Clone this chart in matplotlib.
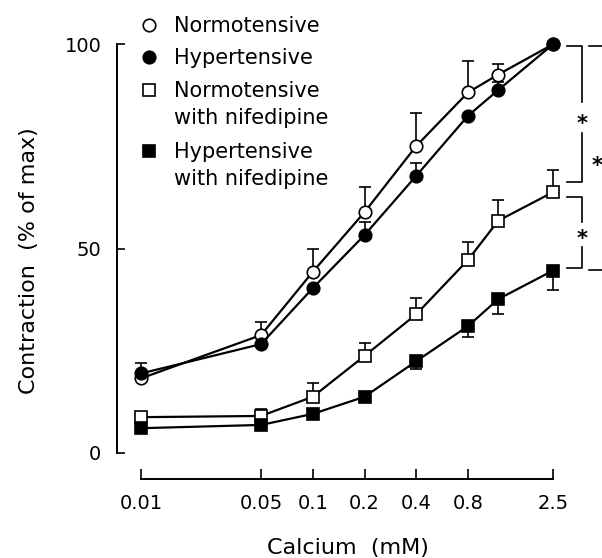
import matplotlib.pyplot as plt
import numpy as np

# calcium concentrations (mM)
calcium = [0.01, 0.05, 0.1, 0.2, 0.4, 0.8, 1.2, 2.5]
tick_vals = [0.01, 0.05, 0.1, 0.2, 0.4, 0.8, 2.5]
tick_labels = ['0.01', '0.05', '0.1', '0.2', '0.4', '0.8', '2.5']

# contraction, % of max, with SEM
normo = [18.2, 28.8, 44.3, 58.9, 75.1, 88.2, 92.6, 100]
normo_err = [3.7, 3.1, 5.5, 6.2, 8.2, 7.8, 2.6, 0]
hyper = [19.4, 26.6, 40.3, 53.3, 67.8, 82.5, 88.8, 100]
hyper_err = [0, 0, 0, 3.3, 3.1, 0, 2.0, 0]
normo_nif = [8.7, 9.0, 13.7, 23.7, 33.9, 47.2, 56.8, 63.8]
normo_nif_err = [0, 1.8, 3.3, 3.1, 3.9, 4.5, 5.1, 5.4]
hyper_nif = [6.0, 6.8, 9.5, 13.7, 22.4, 31.0, 37.6, 44.6]
hyper_nif_err = [0, 0, 0, 0, 1.8, 2.6, 3.6, 4.8]

W, H = 602, 558
fig = plt.figure(figsize=(W / 100, H / 100), dpi=100)
ax = fig.add_axes([141 / W, (H - 452.7) / H, 412 / W, 408.4 / H])

lw = 1.6
ms = 9
mew = 1.2

series = [
    (normo, normo_err, 'up', 'o', 'white'),
    (hyper, hyper_err, 'up', 'o', 'black'),
    (normo_nif, normo_nif_err, 'up', 's', 'white'),
    (hyper_nif, hyper_nif_err, 'down', 's', 'black'),
]

for i, (vals, err, side, mk, fc) in enumerate(series):
    zero = np.zeros(len(err))
    yerr = [zero, err] if side == 'up' else [err, zero]
    ax.errorbar(calcium, vals, yerr=yerr, fmt='none', ecolor='black',
                elinewidth=1.2, capsize=4.3, capthick=1.2, zorder=2 + i,
                clip_on=False)
    ax.plot(calcium, vals, color='black', lw=lw, marker=mk, ms=ms,
            mfc=fc, mec='black', mew=mew, zorder=2.5 + i, clip_on=False)

ax.set_xscale('log')
ax.set_xlim(0.01, 2.5)
ax.set_ylim(0, 100)
ax.set_xticks(tick_vals)
ax.set_xticklabels(tick_labels)
ax.xaxis.set_minor_locator(plt.NullLocator())
ax.set_yticks([0, 50, 100])

for s in ['top', 'right']:
    ax.spines[s].set_visible(False)
ax.spines['left'].set_position(('outward', 17.5))
ax.spines['bottom'].set_position(('outward', 19))
ax.spines['left'].set_bounds(0, 100)
ax.spines['bottom'].set_bounds(0.01, 2.5)
ax.spines['left'].set_linewidth(1.4)
ax.spines['bottom'].set_linewidth(1.4)

ax.tick_params(axis='x', direction='in', length=7.2, width=1.2, pad=11, labelsize=14)
ax.tick_params(axis='y', direction='in', length=6, width=1.2, pad=11, labelsize=14)

ax.set_xlabel('Calcium  (mM)', fontsize=16)
ax.xaxis.set_label_coords(0.502, -0.233)
ax.xaxis.label.set_va('center')
ax.set_ylabel('Contraction  (% of max)', fontsize=16)
ax.yaxis.set_label_coords(-0.272, 0.47)
ax.yaxis.label.set_va('center')

# legend drawn by hand so the marker lines up with the first text line
legend_rows = [
    ('o', 'white', ['Normotensive'], 1.047),
    ('o', 'black', ['Hypertensive'], 0.968),
    ('s', 'white', ['Normotensive', 'with nifedipine'], 0.888),
    ('s', 'black', ['Hypertensive', 'with nifedipine'], 0.739),
]
for mk, fc, lines, y in legend_rows:
    ax.plot([0.019], [y], marker=mk, ms=ms, mfc=fc, mec='black', mew=mew,
            ls='none', transform=ax.transAxes, clip_on=False)
    for j, txt in enumerate(lines):
        ax.text(0.08, y - j * 0.066 - 0.017, txt, transform=ax.transAxes,
                fontsize=15, va='baseline', ha='left')

# significance brackets on the right
tr = ax.get_yaxis_transform()
bk = dict(color='black', lw=1.2, transform=tr, clip_on=False)
ax.plot([1.034, 1.070, 1.070], [99.5, 99.5, 85.9], **bk)
ax.plot([1.070, 1.070, 1.034], [78.4, 66.3, 66.3], **bk)
ax.text(1.070, 80.5, '*', transform=tr, ha='center', va='center',
        fontsize=15, fontweight='bold')
ax.plot([1.034, 1.070, 1.070], [62.7, 62.7, 56.6], **bk)
ax.plot([1.070, 1.070, 1.034], [50.4, 45.2, 45.2], **bk)
ax.text(1.070, 52.3, '*', transform=tr, ha='center', va='center',
        fontsize=15, fontweight='bold')
ax.plot([1.088, 1.135], [99.5, 99.5], **bk)
ax.plot([1.088, 1.135], [44.7, 44.7], **bk)
ax.text(1.107, 70.3, '*', transform=tr, ha='center', va='center',
        fontsize=15, fontweight='bold')

fig.savefig('out.png', dpi=100)
